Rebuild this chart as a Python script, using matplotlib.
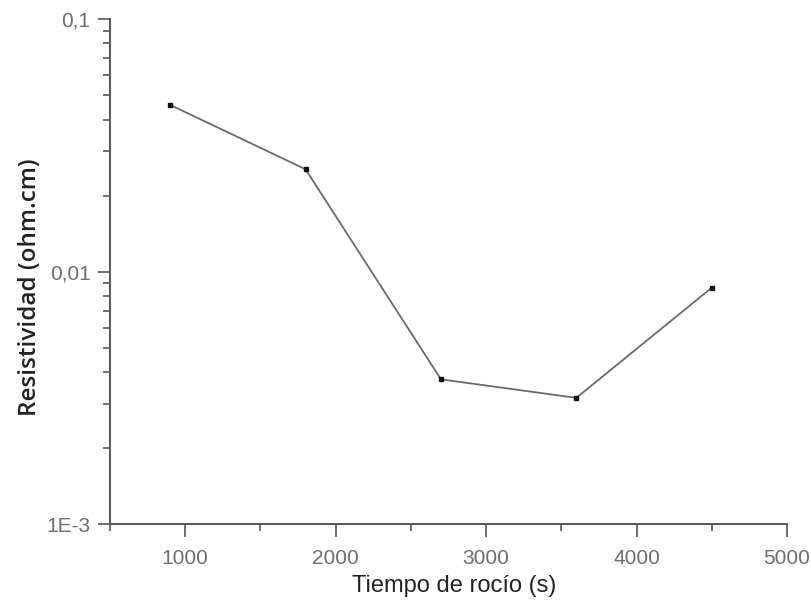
import matplotlib
matplotlib.use("Agg")
import matplotlib.pyplot as plt
from matplotlib.ticker import FixedLocator, FixedFormatter, LogLocator, MultipleLocator

plt.rcParams['font.family'] = ['Liberation Sans', 'DejaVu Sans']

tiempo = [900, 1800, 2700, 3600, 4500]
resistividad = [0.0457, 0.0254, 0.00374, 0.00316, 0.00863]

fig = plt.figure(figsize=(8.11, 6.06), dpi=100)
ax = fig.add_axes([0.1356, 0.1353, 0.8348, 0.8333])

ax.plot(tiempo, resistividad, color='#6a6a6a', lw=1.3,
        marker='s', ms=2.5, mfc='#111111', mec='#111111')

ax.set_yscale('log')
ax.set_ylim(1e-3, 0.1)
ax.set_xlim(500, 5000)

ax.yaxis.set_major_locator(FixedLocator([1e-3, 1e-2, 1e-1]))
ax.yaxis.set_major_formatter(FixedFormatter(['1E-3', '0,01', '0,1']))
ax.yaxis.set_minor_locator(LogLocator(base=10, subs=range(2, 10)))
ax.xaxis.set_major_locator(MultipleLocator(1000))
ax.xaxis.set_minor_locator(MultipleLocator(500))

for side in ['top', 'right']:
    ax.spines[side].set_visible(False)
for side in ['left', 'bottom']:
    ax.spines[side].set_color('#555555')
    ax.spines[side].set_linewidth(1.4)

ax.tick_params(which='major', direction='out', length=9, width=1.2,
               color='#555555', labelsize=15, labelcolor='#6e6e6e')
ax.tick_params(which='minor', direction='out', length=5, width=1.2,
               color='#555555')
ax.tick_params(axis='x', which='major', pad=9)
ax.tick_params(axis='y', which='major', pad=5)

ax.set_xlabel('Tiempo de rocío (s)', fontsize=17, color='#222222')
ax.xaxis.set_label_coords(0.508, -0.101)
ax.set_ylabel('Resistividad (ohm.cm)', family=['Open Sans', 'DejaVu Sans'],
              fontsize=17.5, color='#222222', fontweight='semibold')
ax.yaxis.set_label_coords(-0.100, 0.469)

fig.savefig('out.png', dpi=100)
